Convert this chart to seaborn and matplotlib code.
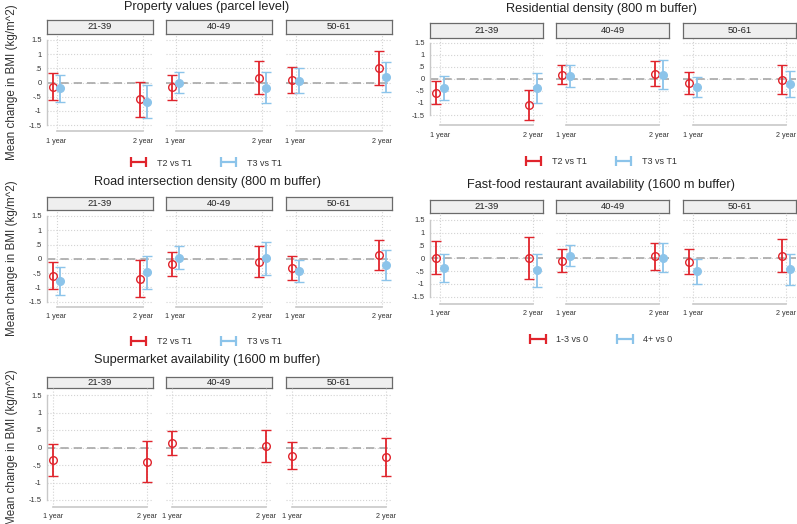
import numpy as np
import pandas as pd
import seaborn as sns
import matplotlib.pyplot as plt
from matplotlib.lines import Line2D

sns.set_style('white')
plt.rcParams['font.family'] = ['Liberation Sans', 'DejaVu Sans']

age_groups = ['21-39', '40-49', '50-61']
periods = ['1 year', '2 year']
ytick_vals = [-1.5, -1, -0.5, 0, 0.5, 1, 1.5]
ytick_labels = ['-1.5', '-1', '-.5', '0', '.5', '1', '1.5']

# values ordered: 21-39 (1y, 2y), 40-49 (1y, 2y), 50-61 (1y, 2y)
prop_a_est = [-0.15, -0.58, -0.17, 0.17, 0.08, 0.52]
prop_a_lo = [-0.60, -1.20, -0.61, -0.42, -0.37, -0.08]
prop_a_hi = [0.32, 0.03, 0.28, 0.76, 0.55, 1.12]
prop_b_est = [-0.20, -0.68, 0.00, -0.18, 0.07, 0.18]
prop_b_lo = [-0.68, -1.25, -0.38, -0.72, -0.36, -0.33]
prop_b_hi = [0.28, -0.10, 0.38, 0.37, 0.50, 0.72]

res_a_est = [-0.57, -1.08, 0.17, 0.20, -0.17, -0.04]
res_a_lo = [-1.05, -1.70, -0.20, -0.32, -0.62, -0.62]
res_a_hi = [-0.10, -0.45, 0.55, 0.73, 0.27, 0.55]
res_b_est = [-0.38, -0.38, 0.12, 0.17, -0.35, -0.23]
res_b_lo = [-0.86, -1.00, -0.33, -0.42, -0.77, -0.77]
res_b_hi = [0.10, 0.22, 0.57, 0.78, 0.07, 0.32]

road_a_est = [-0.60, -0.70, -0.20, -0.10, -0.32, 0.12]
road_a_lo = [-1.07, -1.35, -0.62, -0.64, -0.74, -0.41]
road_a_hi = [-0.10, -0.03, 0.22, 0.43, 0.09, 0.67]
road_b_est = [-0.79, -0.48, 0.02, 0.02, -0.42, -0.22]
road_b_lo = [-1.27, -1.05, -0.37, -0.56, -0.80, -0.74]
road_b_hi = [-0.30, 0.08, 0.43, 0.60, -0.03, 0.32]

ff_a_est = [0.00, 0.00, -0.11, 0.07, -0.14, 0.10]
ff_a_lo = [-0.62, -0.80, -0.55, -0.47, -0.63, -0.55]
ff_a_hi = [0.66, 0.82, 0.35, 0.60, 0.35, 0.77]
ff_b_est = [-0.38, -0.48, 0.10, 0.02, -0.51, -0.43]
ff_b_lo = [-0.95, -1.13, -0.30, -0.53, -1.00, -1.05]
ff_b_hi = [0.18, 0.17, 0.52, 0.59, -0.03, 0.17]

sm_est = [-0.35, -0.40, 0.12, 0.04, -0.23, -0.28]
sm_lo = [-0.80, -0.98, -0.22, -0.40, -0.62, -0.82]
sm_hi = [0.10, 0.20, 0.48, 0.51, 0.15, 0.26]

red = '#e0242c'
blue = '#8cc4ea'

panels = [
    dict(title='Property values (parcel level)', col='L',
         series=[('T2 vs T1', prop_a_est, prop_a_lo, prop_a_hi),
                 ('T3 vs T1', prop_b_est, prop_b_lo, prop_b_hi)],
         strip=(20, 33.5), y15=40, ym15=125, axis=131,
         title_xy=(207, 7), legend_xy=(205, 163)),
    dict(title='Residential density (800 m buffer)', col='R',
         series=[('T2 vs T1', res_a_est, res_a_lo, res_a_hi),
                 ('T3 vs T1', res_b_est, res_b_lo, res_b_hi)],
         strip=(23, 37.5), y15=42.5, ym15=115, axis=125,
         title_xy=(601, 9), legend_xy=(600, 162)),
    dict(title='Road intersection density (800 m buffer)', col='L',
         series=[('T2 vs T1', road_a_est, road_a_lo, road_a_hi),
                 ('T3 vs T1', road_b_est, road_b_lo, road_b_hi)],
         strip=(197, 209.5), y15=216, ym15=301.5, axis=306.5,
         title_xy=(207.5, 182.5), legend_xy=(205, 341.5)),
    dict(title='Fast-food restaurant availability (1600 m buffer)', col='R',
         series=[('1-3 vs 0', ff_a_est, ff_a_lo, ff_a_hi),
                 ('4+ vs 0', ff_b_est, ff_b_lo, ff_b_hi)],
         strip=(200, 212.5), y15=220, ym15=296.5, axis=303.5,
         title_xy=(601, 185), legend_xy=(600, 339.5)),
    dict(title='Supermarket availability (1600 m buffer)', col='L',
         series=[('1+ vs 0', sm_est, sm_lo, sm_hi)],
         strip=(377, 388), y15=395, ym15=500, axis=506.5,
         title_xy=(207.5, 360), legend_xy=None),
]

facet_x = {'L': [(47, 153), (166, 272), (286, 392)],
           'R': [(430, 543), (556, 669), (683, 796)]}

W, H = 797, 524
fig = plt.figure(figsize=(W / 100, H / 100), dpi=100)


def box(x0, x1, ytop, ybot):
    return [x0 / W, 1 - ybot / H, (x1 - x0) / W, (ybot - ytop) / H]


for p in panels:
    s_top, s_bot = p['strip']
    scale = (p['ym15'] - p['y15']) / 3
    ylim = (-1.5 - (p['axis'] - p['ym15']) / scale, 1.5 + (p['y15'] - s_bot) / scale)
    nser = len(p['series'])
    offsets = [0.0] if nser == 1 else [-0.042, 0.042]
    xpad = 0.06 if nser == 1 else 0.11
    colors = [red, blue]

    rows = []
    for name, est, lo, hi in p['series']:
        for k in range(6):
            rows.append(dict(series=name, age=age_groups[k // 2], period=periods[k % 2],
                             est=est[k], lo=lo[k], hi=hi[k]))
    df = pd.DataFrame(rows)

    for j, (x0, x1) in enumerate(facet_x[p['col']]):
        # strip
        sax = fig.add_axes(box(x0, x1, s_top, s_bot))
        sax.set_facecolor('#efefef')
        sax.set_xticks([])
        sax.set_yticks([])
        for sp in sax.spines.values():
            sp.set_color('#6a6a6a')
            sp.set_linewidth(0.9)
        sax.text(0.5, 0.5, age_groups[j], ha='center', va='center',
                 fontsize=6.8, color='#222222', transform=sax.transAxes)

        ax = fig.add_axes(box(x0, x1, s_bot, p['axis']))
        ax.set_facecolor('none')
        sub = df[df['age'] == age_groups[j]]
        for si, (name, *_rest) in enumerate(p['series']):
            d = sub[sub['series'] == name]
            xs = np.arange(1, 3) + offsets[si]
            yerr = [d['est'] - d['lo'], d['hi'] - d['est']]
            filled = si == 1
            ax.errorbar(xs, d['est'], yerr=yerr, fmt='o', color=colors[si],
                        ms=5.5, mew=1.0, mfc=colors[si] if filled else 'none',
                        elinewidth=1.3, capsize=3.8, capthick=1.3, zorder=3)
        ax.axhline(0, ls=(0, (5, 3)), color='#a8a8a8', lw=1.2, zorder=1)
        ax.set_xlim(1 - xpad, 2 + xpad)
        ax.set_ylim(*ylim)
        ax.set_xticks([1, 2])
        ax.set_yticks(ytick_vals)
        ax.grid(True, ls=':', color='#d3d3d3', lw=0.8)
        ax.set_axisbelow(True)
        sns.despine(ax=ax, left=(j > 0), trim=True)
        ax.set_xticks([1, 2], periods)
        ax.set_yticks(ytick_vals, ytick_labels)
        ax.spines['bottom'].set_color('#c8c8c8')
        ax.spines['bottom'].set_linewidth(1.2)
        ax.spines['left'].set_color('#c8c8c8')
        ax.spines['left'].set_linewidth(1.0)
        ax.tick_params(axis='x', labelsize=5.2, colors='#c8c8c8', labelcolor='#333333',
                       direction='in', length=3, pad=5)
        ax.tick_params(axis='y', labelsize=5.4, colors='#c8c8c8', labelcolor='#333333',
                       length=2, pad=2)
        if j > 0:
            ax.tick_params(axis='y', left=False, labelleft=False)

    tx, ty = p['title_xy']
    fig.text(tx / W, 1 - ty / H, p['title'], ha='center', va='center',
             fontsize=9.2, color='#222222')
    if p['col'] == 'L':
        fig.text(12 / W, 1 - (s_bot + p['axis']) / 2 / H, 'Mean change in BMI (kg/m^2)',
                 rotation=90, ha='center', va='center', fontsize=8.4, color='#333333')
    if p['legend_xy'] is not None:
        handles = [Line2D([], [], color=c, lw=1.6, marker='|', markersize=7.5, mew=1.6)
                   for c in colors]
        labels = [s[0] for s in p['series']]
        lx, ly = p['legend_xy']
        fig.legend(handles, labels, loc='center', bbox_to_anchor=(lx / W, 1 - ly / H),
                   ncol=2, frameon=False, fontsize=6.5, numpoints=2, handlelength=2.3,
                   handletextpad=0.9, columnspacing=2.9, labelcolor='#333333')

fig.savefig('out.png', dpi=100)
